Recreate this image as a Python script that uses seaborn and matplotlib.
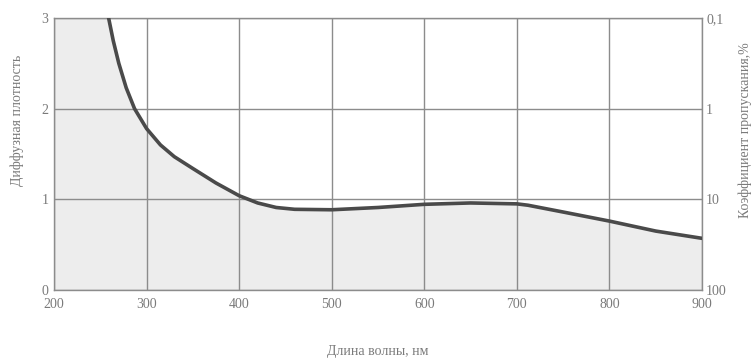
import matplotlib
matplotlib.use("Agg")
import matplotlib.pyplot as plt
import seaborn as sns
import pandas as pd

# Wavelength (nm) and diffuse density of the filter
wavelength = [259, 264, 270, 278, 287, 300, 315, 330, 350, 375, 400, 420, 440,
              460, 500, 550, 600, 650, 700, 712, 750, 800, 850, 900]
density = [3.0, 2.75, 2.5, 2.23, 2.0, 1.78, 1.6, 1.47, 1.34, 1.18, 1.04, 0.96,
           0.91, 0.89, 0.885, 0.91, 0.945, 0.96, 0.95, 0.935, 0.86, 0.76, 0.65, 0.57]

x_ticks = [200, 300, 400, 500, 600, 700, 800, 900]
left_ticks = [0, 1, 2, 3]
right_labels = ["100", "10", "1", "0,1"]   # transmission %, = 10**(2 - D)

df = pd.DataFrame({"wl": wavelength, "D": density})

sns.set_theme(style="white")
plt.rcParams["font.family"] = ["Liberation Serif", "DejaVu Serif"]
txt = "#7a7a7a"

fig = plt.figure(figsize=(7.55, 3.6), dpi=100)
ax = fig.add_axes([54 / 755, 1 - 290 / 360, (702 - 54) / 755, (290 - 18) / 360])

# shaded region under the curve (clipped at the top of the scale)
fill_x = [200] + wavelength
fill_y = [3.0] + [min(v, 3.0) for v in density]
ax.fill_between(fill_x, 0, fill_y, color="#ededed", lw=0, zorder=0)

for xv in x_ticks:
    ax.axvline(xv, color="#8c8c8c", lw=1.0, zorder=1)
for yv in left_ticks:
    ax.axhline(yv, color="#8c8c8c", lw=1.0, zorder=1)

sns.lineplot(data=df, x="wl", y="D", ax=ax, color="#4a4a4a", lw=2.6, zorder=3)

ax.set_xlim(200, 900)
ax.set_ylim(0, 3)
ax.set_xticks(x_ticks)
ax.set_yticks(left_ticks)
ax.set_xlabel("")
ax.set_ylabel("")
ax.tick_params(axis="x", length=0, labelsize=10, colors=txt, pad=6)
ax.tick_params(axis="y", length=0, labelsize=10, colors=txt, pad=4)
for s in ax.spines.values():
    s.set_color("#8c8c8c")
    s.set_linewidth(1.0)

ax2 = ax.twinx()
ax2.set_ylim(0, 3)
ax2.set_yticks(left_ticks)
ax2.set_yticklabels(right_labels)
ax2.tick_params(axis="y", length=0, labelsize=10, colors=txt, pad=3)
for s in ax2.spines.values():
    s.set_visible(False)
ax2.grid(False)

fig.text(378 / 755, 1 - 352 / 360, "Длина волны, нм", ha="center", va="center",
         fontsize=10, color=txt)
fig.text(17 / 755, 1 - 120 / 360, "Диффузная плотность", ha="center", va="center",
         rotation=90, fontsize=10, color=txt)
fig.text(745 / 755, 1 - 130 / 360, "Коэффициент пропускания,%", ha="center",
         va="center", rotation=90, fontsize=10, color=txt)

fig.savefig("out.png", dpi=100)
